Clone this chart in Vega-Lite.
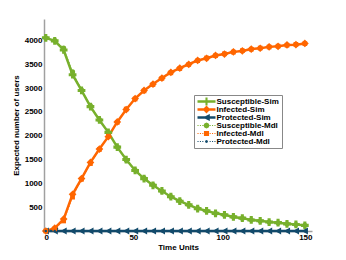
{
  "$schema": "https://vega.github.io/schema/vega-lite/v6.json",
  "width": 268,
  "height": 212,
  "autosize": {"type": "none"},
  "padding": {"left": 44, "top": 19, "right": 34, "bottom": 29},
  "background": "white",
  "config": {
    "view": {"stroke": null},
    "font": "Liberation Sans",
    "axis": {
      "grid": false,
      "domainColor": "#a0a0a0",
      "domainWidth": 1.5,
      "ticks": false,
      "format": "d",
      "labelFont": "Liberation Sans",
      "labelFontWeight": "bold",
      "labelFontSize": 8,
      "labelColor": "#000",
      "titleFont": "Liberation Sans",
      "titleFontWeight": "bold",
      "titleFontSize": 8,
      "titleColor": "#000"
    },
    "legend": {
      "orient": "none",
      "legendX": 150,
      "legendY": 76,
      "title": null,
      "strokeColor": "#888",
      "fillColor": "white",
      "padding": 2.5,
      "rowPadding": -1.2,
      "symbolSize": 36,
      "symbolOffset": 6,
      "labelOffset": 6,
      "symbolStrokeWidth": 0,
      "symbolOpacity": 1,
      "labelFont": "Liberation Sans",
      "labelFontWeight": "bold",
      "labelFontSize": 8,
      "labelColor": "#000"
    }
  },
  "data": {
    "values": [
      {"t": 1, "Susceptible-Sim": 4055, "Infected-Sim": 0, "Protected-Sim": 0, "Susceptible-Mdl": 4050, "Infected-Mdl": 0, "Protected-Mdl": 0},
      {"t": 6, "Susceptible-Sim": 3990, "Infected-Sim": 60, "Protected-Sim": 0, "Susceptible-Mdl": 4005, "Infected-Mdl": 45, "Protected-Mdl": 0},
      {"t": 11, "Susceptible-Sim": 3800, "Infected-Sim": 250, "Protected-Sim": 0, "Susceptible-Mdl": 3840, "Infected-Mdl": 210, "Protected-Mdl": 0},
      {"t": 16, "Susceptible-Sim": 3280, "Infected-Sim": 770, "Protected-Sim": 0, "Susceptible-Mdl": 3340, "Infected-Mdl": 710, "Protected-Mdl": 0},
      {"t": 21, "Susceptible-Sim": 2950, "Infected-Sim": 1100, "Protected-Sim": 0, "Susceptible-Mdl": 2965, "Infected-Mdl": 1085, "Protected-Mdl": 0},
      {"t": 26, "Susceptible-Sim": 2610, "Infected-Sim": 1440, "Protected-Sim": 0, "Susceptible-Mdl": 2635, "Infected-Mdl": 1415, "Protected-Mdl": 0},
      {"t": 31, "Susceptible-Sim": 2330, "Infected-Sim": 1720, "Protected-Sim": 0, "Susceptible-Mdl": 2340, "Infected-Mdl": 1710, "Protected-Mdl": 0},
      {"t": 36, "Susceptible-Sim": 2070, "Infected-Sim": 1980, "Protected-Sim": 0, "Susceptible-Mdl": 2060, "Infected-Mdl": 1990, "Protected-Mdl": 0},
      {"t": 41, "Susceptible-Sim": 1760, "Infected-Sim": 2290, "Protected-Sim": 0, "Susceptible-Mdl": 1770, "Infected-Mdl": 2280, "Protected-Mdl": 0},
      {"t": 46, "Susceptible-Sim": 1500, "Infected-Sim": 2550, "Protected-Sim": 0, "Susceptible-Mdl": 1490, "Infected-Mdl": 2560, "Protected-Mdl": 0},
      {"t": 51, "Susceptible-Sim": 1270, "Infected-Sim": 2780, "Protected-Sim": 0, "Susceptible-Mdl": 1280, "Infected-Mdl": 2770, "Protected-Mdl": 0},
      {"t": 56, "Susceptible-Sim": 1100, "Infected-Sim": 2950, "Protected-Sim": 0, "Susceptible-Mdl": 1110, "Infected-Mdl": 2940, "Protected-Mdl": 0},
      {"t": 61, "Susceptible-Sim": 960, "Infected-Sim": 3085, "Protected-Sim": 0, "Susceptible-Mdl": 970, "Infected-Mdl": 3075, "Protected-Mdl": 0},
      {"t": 66, "Susceptible-Sim": 840, "Infected-Sim": 3210, "Protected-Sim": 0, "Susceptible-Mdl": 835, "Infected-Mdl": 3205, "Protected-Mdl": 0},
      {"t": 71, "Susceptible-Sim": 720, "Infected-Sim": 3330, "Protected-Sim": 0, "Susceptible-Mdl": 725, "Infected-Mdl": 3320, "Protected-Mdl": 0},
      {"t": 76, "Susceptible-Sim": 625, "Infected-Sim": 3420, "Protected-Sim": 0, "Susceptible-Mdl": 632, "Infected-Mdl": 3410, "Protected-Mdl": 0},
      {"t": 81, "Susceptible-Sim": 550, "Infected-Sim": 3500, "Protected-Sim": 0, "Susceptible-Mdl": 547, "Infected-Mdl": 3495, "Protected-Mdl": 0},
      {"t": 86, "Susceptible-Sim": 470, "Infected-Sim": 3580, "Protected-Sim": 0, "Susceptible-Mdl": 478, "Infected-Mdl": 3575, "Protected-Mdl": 0},
      {"t": 91, "Susceptible-Sim": 425, "Infected-Sim": 3625, "Protected-Sim": 0, "Susceptible-Mdl": 421, "Infected-Mdl": 3632, "Protected-Mdl": 0},
      {"t": 96, "Susceptible-Sim": 370, "Infected-Sim": 3685, "Protected-Sim": 0, "Susceptible-Mdl": 373, "Infected-Mdl": 3680, "Protected-Mdl": 0},
      {"t": 101, "Susceptible-Sim": 340, "Infected-Sim": 3715, "Protected-Sim": 0, "Susceptible-Mdl": 335, "Infected-Mdl": 3720, "Protected-Mdl": 0},
      {"t": 106, "Susceptible-Sim": 296, "Infected-Sim": 3760, "Protected-Sim": 0, "Susceptible-Mdl": 300, "Infected-Mdl": 3755, "Protected-Mdl": 0},
      {"t": 111, "Susceptible-Sim": 270, "Infected-Sim": 3780, "Protected-Sim": 0, "Susceptible-Mdl": 267, "Infected-Mdl": 3785, "Protected-Mdl": 0},
      {"t": 116, "Susceptible-Sim": 232, "Infected-Sim": 3818, "Protected-Sim": 0, "Susceptible-Mdl": 236, "Infected-Mdl": 3815, "Protected-Mdl": 0},
      {"t": 121, "Susceptible-Sim": 214, "Infected-Sim": 3836, "Protected-Sim": 0, "Susceptible-Mdl": 211, "Infected-Mdl": 3840, "Protected-Mdl": 0},
      {"t": 126, "Susceptible-Sim": 188, "Infected-Sim": 3865, "Protected-Sim": 0, "Susceptible-Mdl": 190, "Infected-Mdl": 3862, "Protected-Mdl": 0},
      {"t": 131, "Susceptible-Sim": 175, "Infected-Sim": 3876, "Protected-Sim": 0, "Susceptible-Mdl": 172, "Infected-Mdl": 3880, "Protected-Mdl": 0},
      {"t": 136, "Susceptible-Sim": 150, "Infected-Sim": 3905, "Protected-Sim": 0, "Susceptible-Mdl": 153, "Infected-Mdl": 3900, "Protected-Mdl": 0},
      {"t": 141, "Susceptible-Sim": 138, "Infected-Sim": 3912, "Protected-Sim": 0, "Susceptible-Mdl": 135, "Infected-Mdl": 3918, "Protected-Mdl": 0},
      {"t": 146, "Susceptible-Sim": 118, "Infected-Sim": 3936, "Protected-Sim": 0, "Susceptible-Mdl": 120, "Infected-Mdl": 3932, "Protected-Mdl": 0}
    ]
  },
  "transform": [
    {"fold": ["Susceptible-Sim", "Infected-Sim", "Protected-Sim", "Susceptible-Mdl", "Infected-Mdl", "Protected-Mdl"], "as": ["series", "value"]}
  ],
  "encoding": {
    "x": {
      "field": "t", "type": "quantitative",
      "scale": {"domain": [0, 150], "nice": false, "zero": false},
      "axis": {"values": [0, 50, 100, 150], "title": "Time Units", "labelPadding": 2, "titlePadding": 2}
    },
    "y": {
      "field": "value", "type": "quantitative",
      "scale": {"domain": [0, 4450], "nice": false},
      "axis": {"values": [500, 1000, 1500, 2000, 2500, 3000, 3500, 4000], "title": "Expected number of users", "labelPadding": 2, "titlePadding": 4}
    },
    "color": {
      "field": "series", "type": "nominal",
      "scale": {
        "domain": ["Susceptible-Sim", "Infected-Sim", "Protected-Sim", "Susceptible-Mdl", "Infected-Mdl", "Protected-Mdl"],
        "range": ["#77b02c", "#ff6600", "#124a6b", "#77b02c", "#ff6600", "#124a6b"]
      }
    }
  },
  "layer": [
    {
      "transform": [{"filter": "indexof(datum.series, 'Sim') > 0"}],
      "mark": {"type": "line", "strokeWidth": 2.5},
      "encoding": {"detail": {"field": "series"}}
    },
    {
      "transform": [{"filter": "indexof(datum.series, 'Mdl') > 0"}],
      "mark": {"type": "line", "strokeWidth": 1, "strokeDash": [1, 2]},
      "encoding": {"detail": {"field": "series"}}
    },
    {
      "transform": [{"filter": "datum.series === 'Susceptible-Sim'"}],
      "mark": {"type": "point", "filled": true, "opacity": 1, "size": 60, "shape": "cross"}
    },
    {
      "transform": [{"filter": "datum.series === 'Infected-Sim'"}],
      "mark": {"type": "point", "filled": true, "opacity": 1, "size": 60, "shape": "diamond"}
    },
    {
      "transform": [{"filter": "datum.series === 'Protected-Sim'"}],
      "mark": {"type": "point", "filled": true, "opacity": 1, "size": 50, "shape": "triangle-left"}
    },
    {
      "transform": [{"filter": "datum.series === 'Susceptible-Mdl'"}],
      "mark": {"type": "point", "filled": true, "opacity": 1, "size": 26, "shape": "circle"}
    },
    {
      "transform": [{"filter": "datum.series === 'Infected-Mdl'"}],
      "mark": {"type": "point", "filled": true, "opacity": 1, "size": 22, "shape": "square"}
    },
    {
      "transform": [{"filter": "datum.series === 'Protected-Mdl'"}],
      "mark": {"type": "point", "filled": true, "opacity": 1, "size": 6, "shape": "circle"}
    },
    {
      "transform": [{"filter": "datum.t < 0"}],
      "mark": {"type": "point", "filled": true, "opacity": 1},
      "encoding": {
        "shape": {
          "field": "series", "type": "nominal",
          "scale": {
            "domain": ["Susceptible-Sim", "Infected-Sim", "Protected-Sim", "Susceptible-Mdl", "Infected-Mdl", "Protected-Mdl"],
            "range": [
              "M-3,-0.4H3V0.4H-3ZM-0.35,-1.3H0.35V-0.35H1.3V0.35H0.35V1.3H-0.35V0.35H-1.3V-0.35H-0.35Z",
              "M-3,-0.4H3V0.4H-3ZM0,-1.3L1.3,0L0,1.3L-1.3,0Z",
              "M-3,-0.4H3V0.4H-3ZM-1.3,0L1.1,-1.2L1.1,1.2Z",
              "M-3,-0.18H-2.65V0.18H-3ZM-2.2,-0.18H-1.85V0.18H-2.2ZM-1.4,-0.18H-1.05V0.18H-1.4ZM1.05,-0.18H1.4V0.18H1.05ZM1.85,-0.18H2.2V0.18H1.85ZM2.65,-0.18H3V0.18H2.65ZM1,0L0.7,0.7L0,1L-0.7,0.7L-1,0L-0.7,-0.7L0,-1L0.7,-0.7Z",
              "M-3,-0.18H-2.65V0.18H-3ZM-2.2,-0.18H-1.85V0.18H-2.2ZM-1.4,-0.18H-1.05V0.18H-1.4ZM1.05,-0.18H1.4V0.18H1.05ZM1.85,-0.18H2.2V0.18H1.85ZM2.65,-0.18H3V0.18H2.65ZM-0.85,-0.85H0.85V0.85H-0.85Z",
              "M-3,-0.18H-2.65V0.18H-3ZM-2.2,-0.18H-1.85V0.18H-2.2ZM-1.4,-0.18H-1.05V0.18H-1.4ZM1.05,-0.18H1.4V0.18H1.05ZM1.85,-0.18H2.2V0.18H1.85ZM2.65,-0.18H3V0.18H2.65ZM0.5,0L0.35,0.35L0,0.5L-0.35,0.35L-0.5,0L-0.35,-0.35L0,-0.5L0.35,-0.35Z"
            ]
          }
        }
      }
    }
  ]
}
